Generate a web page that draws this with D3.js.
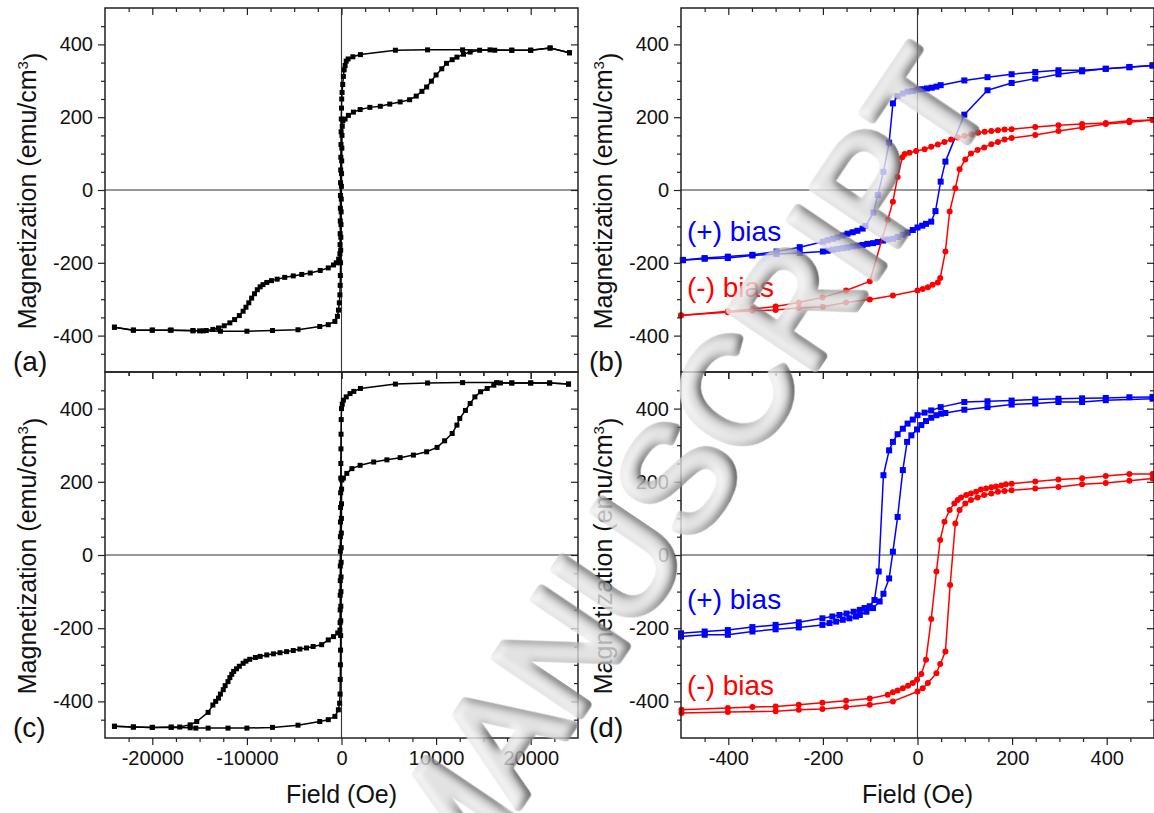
<!DOCTYPE html>
<html>
<head>
<meta charset="utf-8">
<script src="https://cdn.jsdelivr.net/npm/d3@7"></script>
<style>
  html, body { margin: 0; padding: 0; background: #fff; }
  svg { display: block; font-family: "Liberation Sans", Arial, Helvetica, sans-serif; }
</style>
</head>
<body>
<svg id="chart" width="1154" height="813"></svg>
<script>
// ---------- tick values ----------
const wideFieldTicks = [-20000, -10000, 0, 10000, 20000];
const narrowFieldTicks = [-400, -200, 0, 200, 400];
const magTicks = [-400, -200, 0, 200, 400];
const wideFieldDomain = [-25000, 25000];
const narrowFieldDomain = [-500, 500];
const magDomain = [-500, 500];

// ---------- (a) full loop, field in Oe, magnetization in emu/cm3 ----------
const loopA_down = [[24100,377],[22050,390],[20000,384],[18000,384],[16200,384],[12800,385],[9100,385],[5700,384],[2000,372],[1200,366],[700,360],[500,354],[380,342],[280,330],[200,312],[130,290],[60,268],[20,250],[0,225],[-20,195],[-40,160],[-55,125],[-70,90],[-85,55],[-100,20],[-110,-15],[-120,-50],[-130,-85],[-140,-120],[-150,-150],[-170,-175],[-300,-190],[-550,-200],[-850,-206],[-1400,-214],[-2250,-221],[-3300,-228],[-4200,-232],[-5100,-236],[-6000,-240],[-6800,-245],[-7400,-249],[-7900,-254],[-8300,-260],[-8600,-266],[-8900,-274],[-9200,-285],[-9500,-297],[-9800,-310],[-10100,-322],[-10400,-333],[-10800,-345],[-11300,-356],[-11800,-365],[-12400,-373],[-13000,-379],[-13600,-383],[-14300,-386],[-15000,-387],[-15700,-386],[-18100,-385],[-20000,-385],[-22000,-385],[-24000,-377]];
const loopA_up = [[-24000,-377],[-22000,-385],[-20000,-385],[-18000,-385],[-15700,-387],[-14600,-387],[-12800,-388],[-10000,-388],[-7300,-386],[-4600,-384],[-2300,-375],[-1400,-370],[-700,-361],[-430,-347],[-320,-330],[-230,-310],[-170,-288],[-140,-262],[-120,-235],[-100,-200],[-85,-165],[-70,-130],[-55,-95],[-40,-60],[-25,-25],[-10,10],[5,45],[20,80],[35,115],[50,150],[80,175],[150,190],[380,195],[730,205],[1260,214],[1970,221],[3000,227],[4100,230],[5100,236],[6200,242],[7200,248],[7900,258],[8500,271],[9000,283],[9500,299],[10000,316],[10600,333],[11100,348],[11700,358],[12200,365],[12900,373],[13600,379],[14600,384],[15700,385],[18000,384],[20000,384],[22050,390],[24100,377]];

// ---------- (c) full loop ----------
const loopC_down = [[24000,467],[22000,470],[20000,470],[18000,470],[16400,471],[12800,471],[9100,470],[5700,467],[2000,455],[1300,447],[900,441],[500,432],[200,423],[80,412],[0,400],[-30,370],[-50,330],[-60,290],[-70,250],[-80,210],[-90,170],[-100,130],[-110,90],[-115,50],[-120,10],[-125,-30],[-130,-70],[-135,-110],[-140,-150],[-150,-185],[-170,-205],[-400,-213],[-850,-223],[-1400,-232],[-2100,-245],[-3000,-250],[-3700,-254],[-4400,-257],[-5100,-261],[-5800,-264],[-6500,-267],[-7200,-270],[-7900,-273],[-8600,-277],[-9100,-280],[-9700,-285],[-10100,-290],[-10400,-296],[-10800,-304],[-11100,-311],[-11400,-318],[-11600,-326],[-11800,-335],[-12000,-346],[-12300,-357],[-12500,-368],[-12800,-380],[-13000,-391],[-13300,-400],[-13600,-410],[-14100,-430],[-15300,-455],[-16000,-464],[-17100,-470],[-18000,-470],[-20000,-471],[-22000,-470],[-24000,-468]];
const loopC_up = [[-24000,-468],[-22000,-470],[-20000,-471],[-18000,-471],[-16000,-472],[-15400,-473],[-14100,-473],[-12000,-473],[-10000,-473],[-7300,-471],[-4600,-465],[-2300,-455],[-1400,-450],[-700,-441],[-330,-423],[-200,-405],[-150,-380],[-130,-340],[-115,-300],[-100,-260],[-90,-220],[-80,-180],[-70,-140],[-60,-100],[-50,-60],[-40,-20],[-30,20],[-20,60],[-10,100],[0,140],[10,180],[30,205],[200,210],[560,223],[1100,236],[1970,245],[3400,254],[4800,260],[6200,266],[7600,273],[9000,282],[10100,294],[10900,312],[11700,332],[12200,355],[12500,373],[13100,395],[13600,414],[14100,432],[14700,446],[15400,455],[16100,464],[16800,470],[18000,470],[20000,470],[22000,470],[24000,467]];

// ---------- (b) minor loops, (+) bias ----------
const loopB_plus_down = [[497,342],[448,337],[398,333],[348,329],[298,329],[249,324],[199,318],[148,310],[99,301],[49,288],[40,284],[30,281],[20,279],[10,277],[0,276],[-10,272],[-21,270],[-31,265],[-42,258],[-52,238],[-60,130],[-72,50],[-84,-14],[-93,-62],[-110,-99],[-116,-106],[-127,-112],[-137,-116],[-148,-120],[-158,-125],[-169,-130],[-179,-134],[-190,-138],[-200,-142],[-249,-157],[-298,-169],[-349,-178],[-401,-183],[-450,-187],[-496,-192]];
const loopB_plus_up = [[-496,-193],[-450,-189],[-401,-187],[-349,-180],[-298,-176],[-249,-173],[-200,-169],[-190,-167],[-179,-164],[-169,-162],[-158,-160],[-148,-158],[-137,-155],[-127,-153],[-116,-151],[-106,-148],[-94,-146],[-84,-143],[-73,-139],[-63,-136],[-52,-134],[-42,-129],[-31,-123],[-21,-117],[-10,-110],[0,-103],[10,-98],[18,-93],[29,-87],[38,-58],[49,23],[59,78],[99,207],[148,274],[199,294],[249,306],[298,318],[348,326],[398,333],[448,338],[497,342]];

// ---------- (b) minor loops, (-) bias ----------
const loopB_minus_down = [[497,192],[448,190],[398,184],[348,181],[298,178],[249,173],[199,167],[184,166],[170,164],[156,162],[142,160],[128,157],[114,153],[99,149],[85,144],[71,139],[57,132],[43,125],[29,119],[15,112],[-3,107],[-17,102],[-27,99],[-32,90],[-42,36],[-52,-32],[-63,-82],[-101,-251],[-151,-276],[-201,-295],[-251,-309],[-300,-320],[-349,-327],[-401,-333],[-500,-345]];
const loopB_minus_up = [[-500,-344],[-401,-336],[-349,-332],[-300,-330],[-251,-324],[-200,-321],[-151,-309],[-101,-301],[-52,-290],[0,-276],[11,-272],[22,-267],[32,-260],[43,-254],[48,-242],[59,-169],[68,-59],[80,5],[89,57],[101,84],[113,100],[127,110],[141,117],[156,126],[170,132],[184,139],[199,143],[249,151],[298,162],[348,172],[398,181],[448,186],[497,192]];

// ---------- (d) minor loops, (+) bias ----------
const loopD_plus_down = [[497,432],[448,431],[398,429],[348,428],[298,427],[249,425],[199,422],[148,420],[99,418],[49,404],[29,395],[15,389],[0,382],[-10,370],[-21,359],[-31,345],[-42,330],[-52,309],[-60,286],[-72,218],[-82,-45],[-91,-123],[-101,-140],[-112,-145],[-122,-150],[-135,-155],[-150,-160],[-165,-164],[-180,-168],[-201,-173],[-251,-184],[-300,-191],[-349,-197],[-401,-205],[-450,-209],[-500,-214]];
const loopD_plus_up = [[-500,-223],[-450,-218],[-401,-218],[-349,-209],[-300,-203],[-251,-198],[-201,-191],[-186,-186],[-172,-182],[-158,-177],[-144,-173],[-130,-168],[-122,-164],[-108,-155],[-94,-145],[-80,-127],[-72,-106],[-60,-64],[-52,9],[-42,104],[-31,232],[-22,309],[-13,327],[-1,343],[8,355],[18,366],[29,375],[40,382],[50,386],[59,388],[99,397],[148,404],[199,411],[249,414],[298,418],[348,418],[398,423],[497,427]];

// ---------- (d) minor loops, (-) bias ----------
const loopD_minus_down = [[497,221],[448,221],[398,216],[348,210],[298,206],[249,201],[199,195],[187,193],[177,190],[166,187],[156,185],[145,182],[134,179],[124,173],[113,168],[103,164],[92,157],[85,150],[78,141],[68,123],[57,91],[48,41],[40,-45],[29,-175],[18,-286],[8,-325],[-1,-341],[-10,-350],[-20,-357],[-31,-364],[-42,-370],[-52,-375],[-63,-382],[-101,-392],[-151,-398],[-201,-404],[-251,-409],[-300,-414],[-349,-415],[-401,-418],[-499,-423]];
const loopD_minus_up = [[-499,-432],[-401,-429],[-300,-427],[-251,-423],[-201,-421],[-151,-415],[-101,-409],[-52,-400],[0,-373],[11,-364],[22,-350],[40,-323],[48,-298],[59,-264],[69,-82],[80,86],[89,123],[101,141],[113,150],[127,157],[141,164],[156,168],[170,173],[184,175],[199,177],[249,182],[298,186],[348,193],[398,197],[448,203],[497,209]];

// ---------- text ----------
const fieldTitle = "Field (Oe)";
const magTitle = "Magnetization (emu/cm";
const panelTags = ["(a)", "(b)", "(c)", "(d)"];
const biasLabels = ["(+) bias", "(-) bias"];
const watermarkText = "MANUSCRIPT";

// ---------- layout ----------
const svg = d3.select("#chart");
const LEFT_X = [105, 578], RIGHT_X = [681, 1154];
const TOP_Y = [8, 372], BOT_Y = [372, 738];
const BLUE = "#0000ff", RED = "#ff0000", BLACK = "#000";
const AXIS_COLOR = "#222";
const plainNumber = d => String(d);   // keeps the ASCII hyphen for negatives

const panels = [
  { tag: panelTags[0], xDomain: wideFieldDomain, xRange: LEFT_X, yRange: TOP_Y, xMajor: wideFieldTicks, xMinorStep: 2500, bottomLabels: false,
    series: [{ data: loopA_down, color: BLACK, mark: "square", size: 5 }, { data: loopA_up, color: BLACK, mark: "square", size: 5 }] },
  { tag: panelTags[1], xDomain: narrowFieldDomain, xRange: RIGHT_X, yRange: TOP_Y, xMajor: narrowFieldTicks, xMinorStep: 50, bottomLabels: false,
    series: [{ data: loopB_plus_down, color: BLUE, mark: "square", size: 6 }, { data: loopB_plus_up, color: BLUE, mark: "square", size: 6 },
             { data: loopB_minus_down, color: RED, mark: "circle", size: 6 }, { data: loopB_minus_up, color: RED, mark: "circle", size: 6 }] },
  { tag: panelTags[2], xDomain: wideFieldDomain, xRange: LEFT_X, yRange: BOT_Y, xMajor: wideFieldTicks, xMinorStep: 2500, bottomLabels: true,
    series: [{ data: loopC_down, color: BLACK, mark: "square", size: 5 }, { data: loopC_up, color: BLACK, mark: "square", size: 5 }] },
  { tag: panelTags[3], xDomain: narrowFieldDomain, xRange: RIGHT_X, yRange: BOT_Y, xMajor: narrowFieldTicks, xMinorStep: 50, bottomLabels: true,
    series: [{ data: loopD_plus_down, color: BLUE, mark: "square", size: 6 }, { data: loopD_plus_up, color: BLUE, mark: "square", size: 6 },
             { data: loopD_minus_down, color: RED, mark: "circle", size: 6 }, { data: loopD_minus_up, color: RED, mark: "circle", size: 6 }] }
];

function minorValues(domain, step, major) {
  return d3.range(domain[0] + step, domain[1], step).filter(v => !major.includes(v));
}

function styleAxis(sel, showText) {
  sel.select(".domain").remove();
  sel.selectAll(".tick line").attr("stroke", AXIS_COLOR).attr("stroke-width", 1.2);
  sel.selectAll(".tick text")
    .attr("fill", "#111")
    .style("font-size", "20px")
    .style("display", showText ? null : "none");
}

panels.forEach(p => {
  const x = d3.scaleLinear().domain(p.xDomain).range(p.xRange);
  const y = d3.scaleLinear().domain(magDomain).range([p.yRange[1], p.yRange[0]]);
  const g = svg.append("g");
  const [x0, x1] = p.xRange, [y0, y1] = p.yRange;

  // zero lines
  g.append("line").attr("x1", x0).attr("x2", x1).attr("y1", y(0)).attr("y2", y(0))
    .attr("stroke", "#333").attr("stroke-width", 1.1);
  g.append("line").attr("x1", x(0)).attr("x2", x(0)).attr("y1", y0).attr("y2", y1)
    .attr("stroke", "#333").attr("stroke-width", 1.1);

  // loops
  const line = d3.line().x(d => x(d[0])).y(d => y(d[1]));
  p.series.forEach(s => {
    g.append("path").datum(s.data).attr("d", line)
      .attr("fill", "none").attr("stroke", s.color).attr("stroke-width", 1.5).attr("stroke-linejoin", "round");
    if (s.mark === "square") {
      g.append("g").selectAll("rect").data(s.data).join("rect")
        .attr("x", d => x(d[0]) - s.size / 2).attr("y", d => y(d[1]) - s.size / 2)
        .attr("width", s.size).attr("height", s.size).attr("fill", s.color);
    } else {
      g.append("g").selectAll("circle").data(s.data).join("circle")
        .attr("cx", d => x(d[0])).attr("cy", d => y(d[1])).attr("r", s.size / 2).attr("fill", s.color);
    }
  });

  // frame
  g.append("rect").attr("x", x0).attr("y", y0).attr("width", x1 - x0).attr("height", y1 - y0)
    .attr("fill", "none").attr("stroke", AXIS_COLOR).attr("stroke-width", 1.5);

  const xMinor = minorValues(p.xDomain, p.xMinorStep, p.xMajor);
  const yMinor = minorValues(magDomain, 50, magTicks);

  // bottom axis: outward ticks
  g.append("g").attr("transform", `translate(0,${y1})`)
    .call(d3.axisBottom(x).tickValues(p.xMajor).tickSize(7).tickPadding(6).tickFormat(plainNumber))
    .call(a => styleAxis(a, p.bottomLabels));
  g.append("g").attr("transform", `translate(0,${y1})`)
    .call(d3.axisBottom(x).tickValues(xMinor).tickSize(4).tickFormat(""))
    .call(a => styleAxis(a, false));
  // top axis: inward ticks
  g.append("g").attr("transform", `translate(0,${y0})`)
    .call(d3.axisTop(x).tickValues(p.xMajor).tickSize(-7).tickFormat(""))
    .call(a => styleAxis(a, false));
  g.append("g").attr("transform", `translate(0,${y0})`)
    .call(d3.axisTop(x).tickValues(xMinor).tickSize(-4).tickFormat(""))
    .call(a => styleAxis(a, false));
  // left axis: outward ticks with labels
  g.append("g").attr("transform", `translate(${x0},0)`)
    .call(d3.axisLeft(y).tickValues(magTicks).tickSize(7).tickPadding(5).tickFormat(plainNumber))
    .call(a => styleAxis(a, true));
  g.append("g").attr("transform", `translate(${x0},0)`)
    .call(d3.axisLeft(y).tickValues(yMinor).tickSize(4).tickFormat(""))
    .call(a => styleAxis(a, false));
  // right axis: inward ticks
  g.append("g").attr("transform", `translate(${x1},0)`)
    .call(d3.axisRight(y).tickValues(magTicks).tickSize(-7).tickFormat(""))
    .call(a => styleAxis(a, false));
  g.append("g").attr("transform", `translate(${x1},0)`)
    .call(d3.axisRight(y).tickValues(yMinor).tickSize(-4).tickFormat(""))
    .call(a => styleAxis(a, false));

  // y title
  const yt = g.append("text")
    .attr("transform", `translate(${x0 - 69},${(y0 + y1) / 2 + 1}) rotate(-90)`)
    .attr("text-anchor", "middle").style("font-size", "25px").attr("fill", "#111");
  yt.append("tspan").text(magTitle);
  yt.append("tspan").attr("dy", "-0.55em").style("font-size", "15px").text("3");
  yt.append("tspan").attr("dy", "0.55em").text(")");

  // panel tag
  g.append("text").attr("x", x0 - 92).attr("y", y1 - 1)
    .style("font-size", "28px").attr("fill", "#111").text(p.tag);

  // x title
  if (p.bottomLabels) {
    g.append("text").attr("x", (x0 + x1) / 2).attr("y", 803)
      .attr("text-anchor", "middle").style("font-size", "25px").attr("fill", "#111").text(fieldTitle);
  }
});

// bias labels
const biasPos = [
  { text: biasLabels[0], color: BLUE, x: 687, y: 241 },
  { text: biasLabels[1], color: RED, x: 687, y: 297 },
  { text: biasLabels[0], color: BLUE, x: 687, y: 609 },
  { text: biasLabels[1], color: RED, x: 687, y: 695 }
];
svg.append("g").selectAll("text").data(biasPos).join("text")
  .attr("x", d => d.x).attr("y", d => d.y).attr("fill", d => d.color)
  .style("font-size", "28px").text(d => d.text);

// embossed watermark across the figure
const defs = svg.append("defs");
const f = defs.append("filter").attr("id", "tube")
  .attr("x", "-10%").attr("y", "-30%").attr("width", "120%").attr("height", "160%");
f.append("feGaussianBlur").attr("in", "SourceAlpha").attr("stdDeviation", 5).attr("result", "blur");
f.append("feDiffuseLighting").attr("in", "blur").attr("surfaceScale", 7).attr("diffuseConstant", 1.1)
  .attr("lighting-color", "#e6e6e6").attr("result", "lit")
  .append("feDistantLight").attr("azimuth", 225).attr("elevation", 55);
f.append("feComposite").attr("in", "lit").attr("in2", "SourceAlpha").attr("operator", "in");

// the text is anchored so that the "S" sits near the middle of the figure
svg.append("g")
  .attr("transform", "translate(676,478) rotate(-56)")
  .attr("opacity", 0.8)
  .append("text")
  .attr("x", -484).attr("dy", "0.36em")
  .style("font-size", "148px")
  .attr("fill", "#bbb").attr("stroke", "#bbb").attr("stroke-width", 9).attr("stroke-linejoin", "round")
  .attr("filter", "url(#tube)")
  .text(watermarkText);
</script>
</body>
</html>
